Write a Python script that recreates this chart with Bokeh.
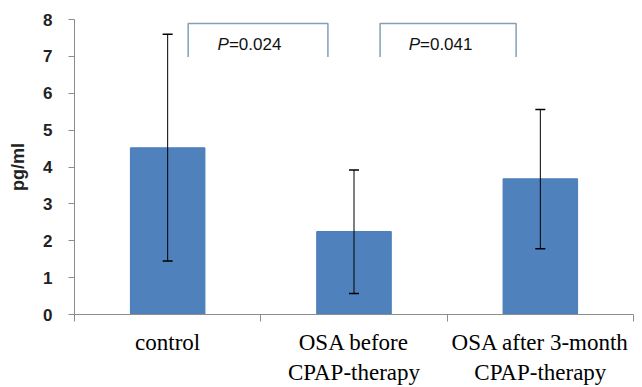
from bokeh.plotting import figure
from bokeh.models import ColumnDataSource, Whisker, TeeHead, FixedTicker, Range1d
from bokeh.core.properties import value
from bokeh.embed import file_html
from bokeh.resources import INLINE

categories = ["control", "OSA before\nCPAP-therapy", "OSA after 3-month\nCPAP-therapy"]
means = [4.52, 2.25, 3.68]
err_low = [1.45, 0.57, 1.78]
err_high = [7.60, 3.92, 5.56]
y_ticks = [0, 1, 2, 3, 4, 5, 6, 7, 8]

# significance brackets (between groups)
p_labels = ["=0.024", "=0.041"]
br_left = [0.61, 1.64]
br_right = [1.36, 2.37]
br_top = 7.89
br_bottom = 6.98

xc = [i + 0.5 for i in range(len(categories))]

p = figure(width=642, height=387, x_range=Range1d(0, 3), y_range=Range1d(0, 8),
           output_backend="svg", toolbar_location=None,
           min_border_left=74, min_border_right=9, min_border_top=19, min_border_bottom=71)
p.outline_line_color = None
p.xgrid.visible = False
p.ygrid.visible = False

src = ColumnDataSource(dict(x=xc, top=means, lo=err_low, hi=err_high))
p.vbar(x="x", top="top", width=0.4, source=src, fill_color="#4f81bd", line_color="#4a7dba")

w = Whisker(base="x", lower="lo", upper="hi", source=src, line_color="black", line_width=1,
            upper_head=TeeHead(size=10, line_color="black", line_width=1.5),
            lower_head=TeeHead(size=10, line_color="black", line_width=1.5),
            level="overlay")
p.add_layout(w)

xs = [[l, l, r, r] for l, r in zip(br_left, br_right)]
ys = [[br_bottom, br_top, br_top, br_bottom] for _ in br_left]
p.multi_line(xs, ys, line_color="#84a0b6", line_width=1.5)

split = [l + 0.225 * (r - l) + 0.05 for l, r in zip(br_left, br_right)]
ty = [(br_top + br_bottom) / 2 - 0.12] * len(split)
p.text(x=split, y=ty, text=["P"] * len(split), text_align="right", text_baseline="middle",
       text_font=value("Liberation Sans"), text_font_style="italic", text_font_size="17px",
       text_color="#111111")
p.text(x=split, y=ty, text=p_labels, text_align="left", text_baseline="middle",
       text_font=value("Liberation Sans"), text_font_size="17px", text_color="#111111")

# x axis
xa = p.xaxis[0]
xa.ticker = FixedTicker(ticks=xc, minor_ticks=[0, 1, 2, 3])
xa.major_label_overrides = {v: c for v, c in zip(xc, categories)}
xa.major_tick_out = 0
xa.major_tick_in = 0
xa.minor_tick_out = 7
xa.minor_tick_in = 0
xa.minor_tick_line_color = "#8c8c8c"
xa.axis_line_color = "#8c8c8c"
xa.major_label_text_font = "Liberation Serif"
xa.major_label_text_font_size = "23px"
xa.major_label_text_color = "black"
xa.major_label_standoff = 8

# y axis
ya = p.yaxis[0]
ya.ticker = FixedTicker(ticks=y_ticks)
ya.axis_line_color = "#8c8c8c"
ya.major_tick_line_color = "#8c8c8c"
ya.major_tick_out = 6
ya.major_tick_in = 0
ya.minor_tick_line_color = None
ya.major_label_text_font = "Liberation Sans"
ya.major_label_text_font_style = "bold"
ya.major_label_text_font_size = "17px"
ya.major_label_text_color = "#222222"
ya.major_label_standoff = 16
ya.axis_label = "pg/ml"
ya.axis_label_text_font = "Liberation Sans"
ya.axis_label_text_font_style = "bold"
ya.axis_label_text_font_size = "18px"
ya.axis_label_text_color = "#222222"
ya.axis_label_standoff = 12

open("out.html", "w").write(file_html(p, INLINE))
